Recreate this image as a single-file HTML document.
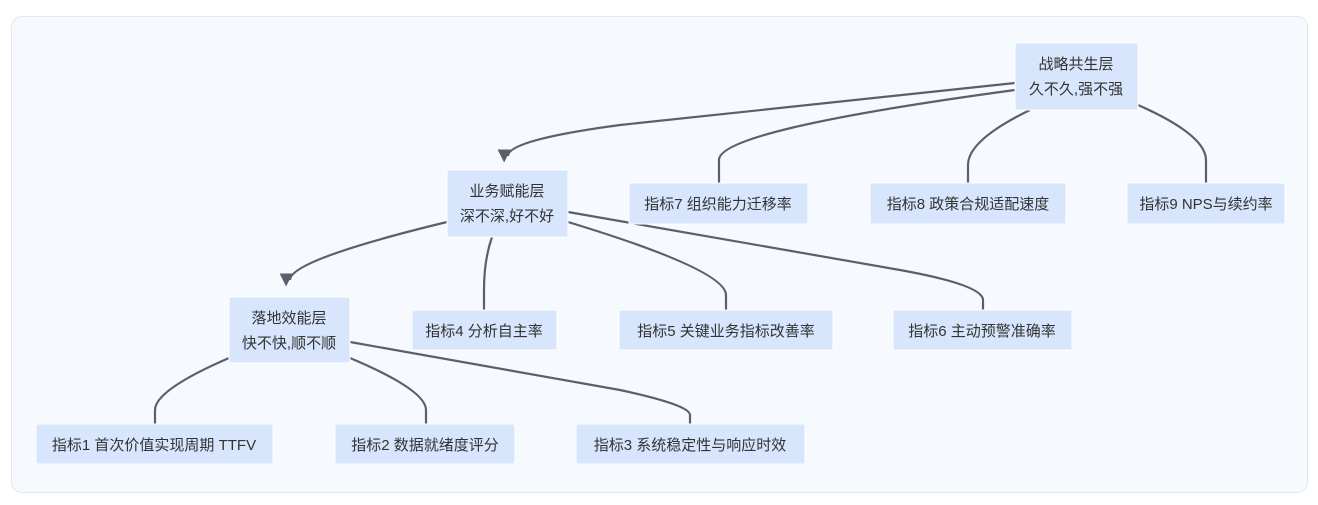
<!DOCTYPE html>
<html><head><meta charset="utf-8"><style>
body{margin:0;background:#fff;width:1318px;height:500px;overflow:hidden}
text{font-family:"Liberation Sans","Noto Sans CJK SC",sans-serif;font-size:15px;fill:#333;text-anchor:middle}
</style></head><body>
<svg width="1318" height="500" xmlns="http://www.w3.org/2000/svg">
<defs><marker id="a" viewBox="0 0 10 10" refX="5" refY="2" markerWidth="13" markerHeight="13" markerUnits="userSpaceOnUse" orient="auto"><path d="M0,0 L10,5 L0,10 z" fill="#5a5f6b"/></marker></defs>
<rect x="11.5" y="16.5" width="1296" height="476" rx="10" fill="#f6f9fd" stroke="#e3e8ee"/>
<g fill="none" stroke="#5a5f6b" stroke-width="2.2">
<path d="M1015,83 L620,125 Q508,140 508,156" marker-end="url(#a)"/>
<path d="M1015,90 Q719,130 719,160 L719,183"/>
<path d="M1030,110 Q968,140 968,165 L968,183"/>
<path d="M1138,105 Q1206,135 1206,160 L1206,183"/>
<path d="M447,222 Q290,260 290,280" marker-end="url(#a)"/>
<path d="M492,237 Q484,260 484,290 L484,310"/>
<path d="M568,222 Q726,270 726,295 L726,310"/>
<path d="M568,212 L900,270 Q983,285 983,300 L983,310"/>
<path d="M229,358 Q155,390 155,410 L155,424"/>
<path d="M350,358 Q426,390 426,410 L426,424"/>
<path d="M350,342 L620,390 Q690,405 690,415 L690,424"/>
</g>
<g fill="#d7e6fd" stroke="#fff" stroke-width="1">
<rect x="1015" y="43" width="123" height="67"/>
<rect x="447" y="170" width="121" height="67"/>
<rect x="629" y="183" width="179" height="41"/>
<rect x="870" y="183" width="196" height="41"/>
<rect x="1127" y="183" width="158" height="41"/>
<rect x="229" y="297" width="121" height="66"/>
<rect x="412" y="310" width="145" height="40"/>
<rect x="619" y="310" width="214" height="40"/>
<rect x="893" y="310" width="179" height="40"/>
<rect x="36" y="424" width="237" height="40"/>
<rect x="335" y="424" width="180" height="40"/>
<rect x="576" y="424" width="229" height="40"/>
</g>
<text x="1076" y="69">战略共生层</text><text x="1076" y="94">久不久,强不强</text>
<text x="507" y="196">业务赋能层</text><text x="507" y="221">深不深,好不好</text>
<text x="718" y="209">指标7 组织能力迁移率</text>
<text x="968" y="209">指标8 政策合规适配速度</text>
<text x="1206" y="209">指标9 NPS与续约率</text>
<text x="289" y="323">落地效能层</text><text x="289" y="348">快不快,顺不顺</text>
<text x="484" y="336">指标4 分析自主率</text>
<text x="726" y="336">指标5 关键业务指标改善率</text>
<text x="982" y="336">指标6 主动预警准确率</text>
<text x="154" y="450">指标1 首次价值实现周期 TTFV</text>
<text x="425" y="450">指标2 数据就绪度评分</text>
<text x="690" y="450">指标3 系统稳定性与响应时效</text>
</svg>
</body></html>
